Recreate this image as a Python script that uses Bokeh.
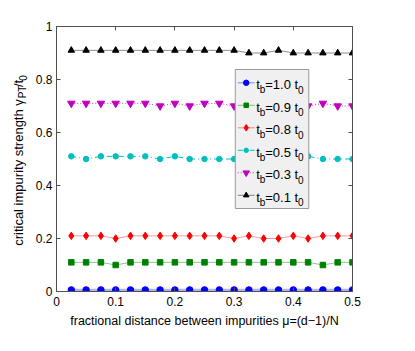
import math
from bokeh.plotting import figure
from bokeh.layouts import row
from bokeh.models import Range1d, FixedTicker, LinearAxis
from bokeh.core.properties import value
from bokeh.embed import file_html
from bokeh.resources import INLINE

# ---------------- data ----------------
mu = [0.025, 0.05, 0.075, 0.1, 0.125, 0.15, 0.175, 0.2, 0.225, 0.25,
      0.275, 0.3, 0.325, 0.35, 0.375, 0.4, 0.425, 0.45, 0.475, 0.5]

tb_10 = [0.006, 0.006, 0.006, 0.006, 0.006, 0.006, 0.006, 0.006, 0.006, 0.006,
         0.006, 0.006, 0.006, 0.006, 0.006, 0.006, 0.006, 0.006, 0.006, 0.006]
tb_09 = [0.11, 0.11, 0.11, 0.10, 0.11, 0.11, 0.11, 0.11, 0.11, 0.11,
         0.11, 0.11, 0.11, 0.11, 0.11, 0.11, 0.11, 0.10, 0.11, 0.11]
tb_08 = [0.21, 0.21, 0.21, 0.20, 0.21, 0.21, 0.21, 0.21, 0.21, 0.21,
         0.21, 0.20, 0.21, 0.20, 0.20, 0.21, 0.20, 0.21, 0.21, 0.21]
tb_05 = [0.51, 0.50, 0.51, 0.51, 0.51, 0.51, 0.50, 0.51, 0.50, 0.50,
         0.50, 0.50, 0.50, 0.51, 0.50, 0.50, 0.51, 0.50, 0.50, 0.50]
tb_03 = [0.71, 0.71, 0.71, 0.71, 0.71, 0.71, 0.70, 0.71, 0.70, 0.71,
         0.71, 0.70, 0.71, 0.70, 0.71, 0.71, 0.70, 0.71, 0.70, 0.70]
tb_01 = [0.91, 0.91, 0.91, 0.91, 0.91, 0.91, 0.91, 0.91, 0.91, 0.91,
         0.91, 0.91, 0.90, 0.90, 0.91, 0.90, 0.90, 0.90, 0.90, 0.90]

series_values = [tb_10, tb_09, tb_08, tb_05, tb_03, tb_01]
series_tb = ["1.0", "0.9", "0.8", "0.5", "0.3", "0.1"]

x_ticks = [0, 0.1, 0.2, 0.3, 0.4, 0.5]
x_tick_labels = ["0", "0.1", "0.2", "0.3", "0.4", "0.5"]
y_ticks = [0, 0.2, 0.4, 0.6, 0.8, 1]
y_tick_labels = ["0", "0.2", "0.4", "0.6", "0.8", "1"]

x_label = "fractional distance between impurities \u03bc=(d\u22121)/N"
y_label_main = "critical impurity strength \u03b3"
y_label_tail = [("PT", True), ("/t", False), ("0", True)]

# ---------------- styles ----------------
FONT = "Liberation Sans"
styles = [
    dict(color="#0000ff", lalpha=0.30, lw=2.5, dash="solid", marker="circle", size=6.5),
    dict(color="#008000", lalpha=0.45, lw=1.0, dash="solid", marker="square", size=5.5),
    dict(color="#ff0000", lalpha=0.40, lw=1.0, dash="solid", marker="diamond", size=7.5),
    dict(color="#00bfbf", lalpha=1.0, lw=1.0, dash="5 3 1 3", marker="circle", size=5.5),
    dict(color="#bf00bf", lalpha=0.8, lw=1.0, dash="1 2", marker="inverted_triangle", size=7.5),
    dict(color="#000000", lalpha=0.45, lw=1.0, dash="solid", marker="triangle", size=6.5),
]

TOTAL_W, H = 407, 343
LAB_W = 32                                   # side panel holding the rotated y label
W = TOTAL_W - LAB_W
FL, FR, FT, FB = 54 - LAB_W, 55, 26, 52      # frame borders of main figure
FW, FH = W - FL - FR, H - FT - FB

p = figure(width=W, height=H, output_backend="svg", toolbar_location=None,
           x_range=Range1d(0, 0.5), y_range=Range1d(0, 1),
           min_border_left=FL, min_border_right=FR, min_border_top=FT, min_border_bottom=FB)
p.grid.visible = False
p.outline_line_color = None
p.background_fill_color = "white"
p.border_fill_color = "white"

AX_COLOR = "#505050"


def style_axis(ax, ticks, labels, show):
    ax.ticker = FixedTicker(ticks=ticks)
    ax.minor_tick_line_color = None
    ax.major_tick_in = 4
    ax.major_tick_out = 0
    ax.axis_line_color = AX_COLOR
    ax.major_tick_line_color = AX_COLOR
    ax.major_label_text_font = FONT
    ax.major_label_text_font_size = "12px"
    ax.major_label_text_color = "black"
    if show:
        ax.major_label_overrides = {t: l for t, l in zip(ticks, labels)}
    else:
        ax.major_label_overrides = {t: "" for t in ticks}


style_axis(p.xaxis[0], x_ticks, x_tick_labels, True)
style_axis(p.yaxis[0], y_ticks, y_tick_labels, True)
p.xaxis[0].major_label_standoff = 5
p.yaxis[0].major_label_standoff = 4
p.xaxis[0].axis_label = x_label
p.xaxis[0].axis_label_text_font = FONT
p.xaxis[0].axis_label_text_font_size = "12.5px"
p.xaxis[0].axis_label_text_font_style = "normal"
p.xaxis[0].axis_label_text_color = "black"
p.xaxis[0].axis_label_standoff = 5

top_ax = LinearAxis()
style_axis(top_ax, x_ticks, x_tick_labels, False)
p.add_layout(top_ax, "above")
right_ax = LinearAxis()
style_axis(right_ax, y_ticks, y_tick_labels, False)
p.add_layout(right_ax, "right")

for vals, st in zip(series_values, styles):
    p.line(mu, vals, line_color=st["color"], line_alpha=st["lalpha"],
           line_width=st["lw"], line_dash=st["dash"])
    p.scatter(mu, vals, marker=st["marker"], size=st["size"],
              fill_color=st["color"], line_color=st["color"])

# ---------------- text helpers ----------------
AW = {' ': 278, 'a': 556, 'b': 556, 'c': 500, 'd': 556, 'e': 556, 'f': 278, 'g': 556, 'h': 556,
      'i': 222, 'j': 222, 'k': 500, 'l': 222, 'm': 833, 'n': 556, 'o': 556, 'p': 556, 'q': 556,
      'r': 333, 's': 500, 't': 278, 'u': 556, 'v': 500, 'w': 722, 'x': 500, 'y': 500, 'z': 500,
      'P': 667, 'T': 611, 'N': 722, '/': 278, '=': 584, '.': 278, '(': 333, ')': 333,
      '0': 556, '1': 556, '2': 556, '3': 556, '4': 556, '5': 556, '6': 556, '7': 556, '8': 556, '9': 556,
      '\u03b3': 500, '\u03bc': 576, '\u2212': 584}


def tw(s, size):
    return sum(AW.get(c, 556) for c in s) * size / 1000.0


def dx(X):   # page pixel -> data x of main plot
    return (X - LAB_W - FL) / FW * 0.5


def dy(Y):   # page pixel -> data y of main plot
    return 1 - (Y - FT) / FH


# ---------------- legend (drawn as glyphs, on top of the data) ----------------
LEG_L, LEG_R, LEG_T, LEG_B = 234, 308, 69, 208
ROW0, ROW_DY = 82.3, 22.5
p.quad(left=[dx(LEG_L)], right=[dx(LEG_R)], top=[dy(LEG_T)], bottom=[dy(LEG_B)],
       fill_color="#f0f0f0", line_color="#9a9a9a", line_width=1)
MAIN, SUB = 13, 10
groups = {MAIN: dict(x=[], y=[], t=[]), SUB: dict(x=[], y=[], t=[])}
for i, (tb, st) in enumerate(zip(series_tb, styles)):
    cy = ROW0 + ROW_DY * i
    p.line([dx(LEG_L + 2.5), dx(LEG_L + 19.5)], [dy(cy), dy(cy)], line_color=st["color"],
           line_alpha=max(st["lalpha"], 0.45), line_width=1, line_dash=st["dash"])
    p.scatter([dx(LEG_L + 11)], [dy(cy)], marker=st["marker"], size=st["size"] - 1,
              fill_color=st["color"], line_color=st["color"])
    base = cy + 2.0
    sub_base = base + 5.0
    X = LEG_L + 21
    parts = [("t", False), ("b", True), ("=" + tb + " t", False), ("0", True)]
    for txt, is_sub in parts:
        size = SUB if is_sub else MAIN
        groups[size]["x"].append(dx(X))
        groups[size]["y"].append(dy(sub_base if is_sub else base))
        groups[size]["t"].append(txt)
        X += tw(txt, size)
for size, g in groups.items():
    p.text(x=g["x"], y=g["y"], text=g["t"], text_font=value(FONT),
           text_font_size=value(f"{size}px"), text_baseline="alphabetic", text_align="left",
           text_color="black")

# ---------------- side panel with the rotated y label ----------------
q = figure(width=LAB_W, height=H, output_backend="svg", toolbar_location=None,
           x_range=Range1d(0, LAB_W), y_range=Range1d(0, H),
           x_axis_type=None, y_axis_type=None, title=None,
           min_border_left=0, min_border_right=0, min_border_top=0, min_border_bottom=0)
q.grid.visible = False
q.outline_line_color = None
q.background_fill_color = "white"
q.border_fill_color = "white"

# the tail (PT, /t, 0) is laid out from the top end of the label downwards;
# the main text is right-aligned (its end) at the junction, so it can never overlap.
YMAIN, YSUB = 13, 10
mid_x = 18.0
TOP = 64.0
gaps_after = {"0": 0.5, "/t": 1.0, "PT": 3.0}
y_cur = TOP
for txt, is_sub in reversed(y_label_tail):
    size = YSUB if is_sub else YMAIN
    w = tw(txt, size)
    cyp = y_cur + w / 2
    q.text(x=[mid_x + (4.0 if is_sub else 0)], y=[H - cyp], text=[txt], text_font=value(FONT),
           text_font_size=value(f"{size}px"), text_baseline="middle", text_align="center",
           text_color="black", angle=math.pi / 2)
    y_cur += w + gaps_after[txt]
q.text(x=[mid_x], y=[H - y_cur], text=[y_label_main], text_font=value(FONT),
       text_font_size=value(f"{YMAIN}px"), text_baseline="middle", text_align="right",
       text_color="black", angle=math.pi / 2)

layout = row(q, p, spacing=0)
open("out.html", "w").write(file_html(layout, INLINE))
